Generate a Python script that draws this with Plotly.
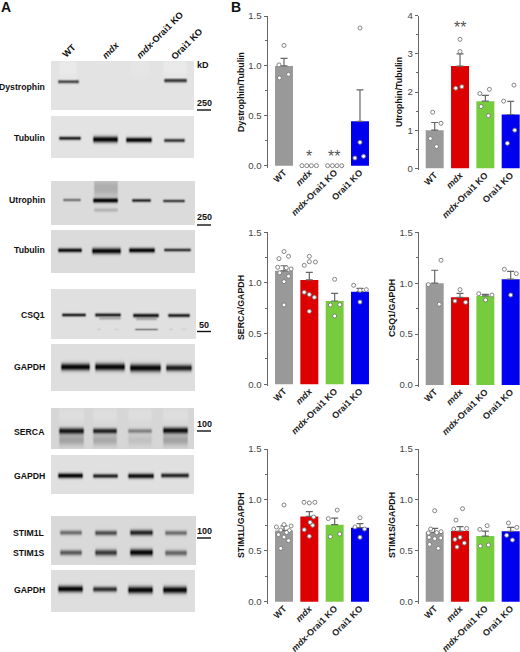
import numpy as np
import plotly.graph_objects as go

W, H = 520, 652
groups = ["WT", "<i>mdx</i>", "<i>mdx</i>-Orai1 KO", "Orai1 KO"]
colors = ["#999999", "#dd0000", "#77cc3d", "#0000ee"]

# ---- panel B data ----
dys_means = [1.0, 0.0, 0.0, 0.445]
dys_tops = [1.075, 0.0, 0.0, 0.76]
dys_vals = [[1.205, 1.01, 0.88, 0.915], [0, 0, 0, 0], [0, 0, 0, 0], [1.38, 0.234, 0.077, 0.094]]
dys_jit = [[0, -.2, -.18, .18], [-.29, -.1, .08, .28], [-.28, -.09, .09, .28], [0, 0, -.2, .14]]

utr_means = [1.0, 2.68, 1.76, 1.41]
utr_tops = [1.2, 3.0, 1.91, 1.755]
utr_vals = [[1.47, 1.18, .78, .57], [3.38, 3.06, 2.10, 2.14], [1.96, 2.07, 1.62, 1.38], [2.18, 1.76, 1.0, .655]]
utr_jit = [[-.08, .25, -.17, .07], [0, 0, -.17, .07], [-.22, .16, -.17, .12], [.13, -.28, .16, -.13]]

ser_means = [1.12, 1.03, .822, .914]
ser_tops = [1.17, 1.105, .898, .947]
ser_vals = [[1.31, 1.24, 1.263, 1.155, 1.15, 1.138, 1.10, 1.066, 1.013, .783],
            [1.263, 1.174, 1.21, 1.207, .908, .885, .858, .72],
            [1.036, .783, .786, .674], [.977, .928, .934, .812]]
ser_jit = [[0, -.2, .18, -.25, .09, .28, -.17, .18, 0, 0],
           [0, -.2, 0, .24, -.2, 0, .2, 0],
           [0, -.17, .2, 0], [-.25, 0, .25, 0]]

csq_means = [1.0, .861, .875, 1.04]
csq_tops = [1.127, .90, .89, 1.117]
csq_vals = [[1.225, .986, .793], [.937, .825, .812], [.897, .884, .835], [1.137, 1.094, .884]]
csq_jit = [[.25, -.25, .18], [0, -.2, .22], [-.26, .26, .01], [-.25, .22, 0]]

stl_means = [.70, .838, .757, .727]
stl_tops = [.744, .884, .82, .766]
stl_vals = [[.95, .734, .757, .744, .704, .698, .658, .635, .6, .524, .68],
            [.976, .97, .976, .832, .707, .75, .642, .78],
            [.816, .90, .639, .665], [.825, .734, .714, .632]]
stl_jit = [[0, -.3, 0, .28, -.13, .21, -.22, 0, .18, -.13, .1],
           [-.21, 0, .22, .17, -.2, .13, 0, .03],
           [-.25, .1, -.17, .2], [0, -.2, .18, 0]]

sts_means = [.681, .694, .645, .691]
sts_tops = [.72, .737, .694, .73]
sts_vals = [[.894, .714, .675, .688, .678, .632, .619, .626, .563, .524],
            [.914, .802, .714, .72, .612, .632, .576, .537],
            [.71, .747, .547, .557], [.773, .73, .652, .606]]
sts_jit = [[0, -.16, -.25, .25, .08, -.22, 0, .24, -.2, .14],
           [.1, -.16, -.25, .26, -.2, 0, .17, -.12],
           [-.22, .07, -.2, .12], [-.09, .24, -.16, .07]]

y_titles = ["Dystrophin/Tubulin", "Utrophin/Tubulin", "SERCA/GAPDH", "CSQ1/GAPDH", "STIM1L/GAPDH", "STIM1S/GAPDH"]

# ---- panel A blot labels ----
lane_labels = groups
blot_labels = ["Dystrophin", "Tubulin", "Utrophin", "Tubulin", "CSQ1", "GAPDH", "SERCA", "GAPDH", "STIM1L", "STIM1S", "GAPDH"]
blot_label_y = [87.5, 138, 200, 250.5, 315.5, 367, 431.5, 476, 532.5, 553, 589.5]
size_labels = ["kD", "250", "250", "50", "100", "100"]
size_label_y = [64.5, 102.5, 217, 324.5, 424, 531]
size_bar_y = [110, 225, 331.5, 431, 538]

# blot panels: x0, x1, y0, y1, background
blots = [(51, 194, 61, 110, .89), (51, 194, 116, 158, .89), (51, 195, 181, 225, .86), (51, 195, 230, 273, .86),
         (51, 196, 289, 339, .88), (51, 195, 344, 391, .87), (51, 194, 408, 449.5, .84), (51, 194, 455, 494, .88),
         (51, 196, 516, 565, .85), (51, 195, 570, 612, .87)]
# bands: x0, x1, y centre, vertical sigma, strength (negative lightens)
bands = [
 (57, 80, 81.7, 1.3, .7), (163, 188, 80.5, 1.5, .8), (58, 78, 68, 7, -.25), (162, 188, 68, 7, -.25), (130, 150, 68, 6, -.1),
 (58, 82, 138.3, 1.3, .85), (92, 119, 139.5, 2.2, 1.0), (125, 153, 140, 1.8, 1.0), (163, 186, 140.5, 1.3, .75),
 (62, 82, 200, 1.1, .45), (92, 119, 200.5, 1.6, 1.0), (131, 152, 200.5, 1.2, .8), (162, 186, 201, 1.1, .7),
 (93, 119, 188, 7, .22), (93, 119, 210, 1.5, .18),
 (57, 83, 250.3, 1.5, .95), (91, 122, 251, 2.1, 1.0), (128, 156, 250.3, 1.7, 1.0), (163, 192, 250, 1.2, .75),
 (61, 87, 315, 1.2, .85), (94, 122, 315, 1.3, .85), (98, 122, 318.5, 1.0, .22), (132, 160, 315.5, 1.4, .9), (135, 158, 319, 1.1, .22), (167, 191, 315.5, 1.3, .85),
 (134, 159, 329.5, .8, .4), (96, 102, 329.5, .8, .08), (113, 120, 329.5, .8, .06), (168, 174, 329.5, .8, .08), (180, 188, 329, .8, .06),
 (60, 91, 367, 2.5, 1.0), (94, 126, 367, 2.6, 1.0), (129, 162, 368, 2.7, 1.0), (165, 193, 368, 2.3, .9),
 (58, 85, 431, 2.2, .9), (92, 118, 431, 1.9, .85), (127, 153, 431, 1.6, .4), (162, 189, 430.5, 2.2, .95),
 (58, 85, 440, 4, .25), (92, 118, 440, 4, .22), (127, 153, 440, 4, .1), (162, 189, 440, 4, .25),
 (58, 85, 415, 5, -.2), (92, 118, 415, 5, -.2), (127, 153, 415, 5, -.2), (162, 189, 415, 5, -.2),
 (57, 84, 475.7, 1.8, 1.0), (92, 119, 476, 1.5, .85), (127, 155, 476, 1.8, .95), (160, 190, 475.5, 1.6, .85),
 (59, 83, 532.7, 1.7, .5), (94, 118, 533, 1.8, .65), (129, 154, 532.7, 2.0, .85), (164, 188, 533, 1.7, .5),
 (59, 83, 552.7, 1.9, .6), (94, 118, 552.7, 2.2, .75), (129, 154, 552.5, 2.4, 1.0), (164, 188, 553, 2.0, .55),
 (57, 84, 589, 2.3, 1.0), (92, 118, 589.3, 1.9, .8), (127, 154, 590, 2.5, 1.0), (162, 188, 590, 2.5, 1.0),
]

# ---- render panel A as a greyscale image through a heatmap ----
A_W = 196
px = np.arange(A_W) + .5
py = np.arange(H) + .5
img = np.ones((H, A_W))
for x0, x1, y0, y1, bg in blots:
    img[np.outer((py >= y0) & (py < y1), (px >= x0) & (px < x1))] = bg
blot_mask = img < 1
dark = np.zeros_like(img)
for x0, x1, yc, s, d in bands:
    xf = np.clip((px - x0) / 2.5, 0, 1) * np.clip((x1 - px) / 2.5, 0, 1)
    yf = np.exp(-((py - yc) / s) ** 2 / 2)
    dark += d * np.outer(yf, xf)
dark = np.clip(dark, -.5, 1)
img = np.where(blot_mask, np.where(dark >= 0, img * (1 - dark * .97), img + (1 - img) * (-dark)), 1.0)

fig = go.Figure()
fig.add_trace(go.Heatmap(z=img, x0=.5, dx=1, y0=.5, dy=1, zmin=0, zmax=1, showscale=False, hoverinfo="skip",
                         colorscale=[[0, "#000000"], [1, "#ffffff"]], xaxis="x", yaxis="y"))

layout = dict(
    width=W, height=H, margin=dict(l=0, r=0, t=0, b=0, pad=0, autoexpand=False), paper_bgcolor="white", plot_bgcolor="rgba(0,0,0,0)",
    showlegend=False, font=dict(family="Liberation Sans", color="#222222"),
    xaxis=dict(domain=[0, A_W / W], range=[0, A_W], visible=False, automargin=False),
    yaxis=dict(domain=[0, 1], range=[H, 0], visible=False, automargin=False),
)

panels = [
    (dys_means, dys_tops, dys_vals, dys_jit, 268, 16, 165.7, 1.5, .5, 284.0, 372),
    (utr_means, utr_tops, utr_vals, utr_jit, 419.3, 15.7, 168.3, 4, 1, 434.7, 520),
    (ser_means, ser_tops, ser_vals, ser_jit, 268, 232.3, 384.3, 1.5, .5, 284.0, 372),
    (csq_means, csq_tops, csq_vals, csq_jit, 419.3, 232.3, 385, 1.5, .5, 434.7, 520),
    (stl_means, stl_tops, stl_vals, stl_jit, 268, 449, 601.7, 1.5, .5, 284.0, 372),
    (sts_means, sts_tops, sts_vals, sts_jit, 419.3, 449, 601.7, 1.5, .5, 434.7, 520),
]
STEP = 25.33
for i, (means, tops, vals, jit, ax_x, y_top, y_zero, ymax, dt, first, right) in enumerate(panels):
    n = i + 2
    xa, ya = f"x{n}", f"y{n}"
    per_px = ymax / (y_zero - y_top)
    fig.add_trace(go.Bar(x=list(range(4)), y=means, width=.71, marker=dict(color=colors, line=dict(width=0)),
                         error_y=dict(type="data", symmetric=False, array=[t - m for t, m in zip(tops, means)],
                                      arrayminus=[0] * 4, color="#666666", thickness=1.2, width=3.5),
                         xaxis=xa, yaxis=ya, hoverinfo="skip"))
    for g in range(4):
        fig.add_trace(go.Scatter(x=[g + j for j in jit[g]], y=vals[g], mode="markers",
                                 marker=dict(size=4, color="white", line=dict(color="#777777", width=.9)),
                                 xaxis=xa, yaxis=ya, hoverinfo="skip", cliponaxis=False))
    layout[f"xaxis{n}"] = dict(domain=[ax_x / W, right / W], range=[-(first - ax_x) / STEP, 3 + (right - first - 3 * STEP) / STEP],
                               anchor=ya, tickmode="array", tickvals=[0, 1, 2, 3], ticktext=groups, tickangle=-45,
                               ticks="", showline=False, showgrid=False, zeroline=False, automargin=False,
                               ticklabelstandoff=-3, ticklabelshift=0,
                               tickfont=dict(size=9.0, color="#222222", family="Liberation Sans", weight="bold"))
    layout[f"yaxis{n}"] = dict(domain=[1 - (y_zero + 2) / H, 1 - y_top / H], range=[-2 * per_px, ymax], anchor=xa,
                               tickmode="linear", tick0=0, dtick=dt, tickformat=".1f" if ymax < 2 else "d",
                               ticks="outside", ticklen=3.5, tickwidth=1, tickcolor="#666666", automargin=False,
                               showline=True, linecolor="#666666", linewidth=1, showgrid=False, zeroline=False,
                               minor=dict(dtick=dt / 2, ticks="outside", ticklen=2, tickwidth=1, tickcolor="#666666"),
                               tickfont=dict(size=9.6, color="#444444", family="Liberation Sans"))


def text(s, x, y, size=8.9, bold=True, color="#111111", angle=0, xa="center", ya="middle"):
    return dict(text=f"<b>{s}</b>" if bold else s, x=x / W, y=1 - y / H, xref="paper", yref="paper", showarrow=False,
                xanchor=xa, yanchor=ya, textangle=angle, font=dict(size=size, color=color, family="Liberation Sans"))


ann = [text("A", 5.5, 7, 14), text("B", 236, 7, 14)]
for lab, (x, y) in zip(lane_labels, [(69, 51), (111, 50), (160, 35), (187, 44)]):
    ann.append(text(lab, x, y, 9.2, angle=-45))
for lab, y in zip(blot_labels, blot_label_y):
    ann.append(text(lab, 47, y, 8.7, xa="right"))
for lab, y, x in zip(size_labels, size_label_y, [203, 204, 204, 204, 204, 204]):
    ann.append(text(lab, x, y, 9.0))
for t, (x, y) in zip(y_titles, [(241, 92), (399, 92), (241, 308), (392, 308), (241, 525), (392, 525)]):
    ann.append(text(t, x, y, 8.8, angle=-90))
for s, x, y in [("*", 309, 156.5), ("**", 334.3, 156.5), ("**", 460, 28)]:
    ann.append(text(s, x, y, 16, bold=False, color="#555555"))
layout["annotations"] = ann
layout["shapes"] = [dict(type="line", xref="paper", yref="paper", x0=197 / W, x1=211 / W, y0=1 - y / H, y1=1 - y / H,
                         line=dict(color="#111111", width=1.4)) for y in size_bar_y]
fig.update_layout(**layout)
fig.write_html("out.html", config=dict(displayModeBar=False),
               post_script="document.body.style.margin='0';document.documentElement.style.overflow='hidden';")
